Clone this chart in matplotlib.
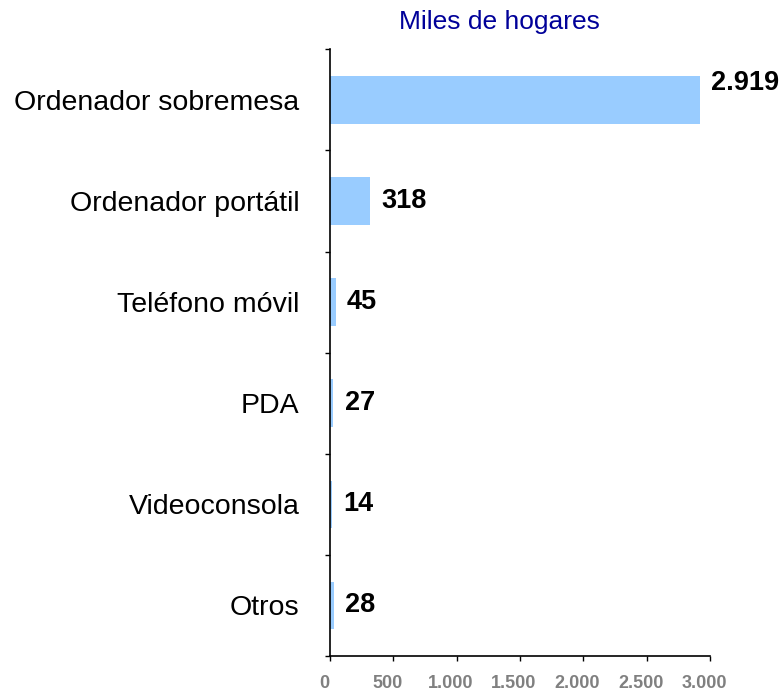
import matplotlib.pyplot as plt
import numpy as np
from matplotlib.ticker import FuncFormatter, FixedLocator
from matplotlib.transforms import ScaledTranslation

plt.rcParams['font.family'] = ['Liberation Sans', 'DejaVu Sans']

# Datos
categories = ['Ordenador sobremesa', 'Ordenador portátil', 'Teléfono móvil',
              'PDA', 'Videoconsola', 'Otros']
values = [2919, 318, 45, 27, 14, 28]
labels = ['2.919', '318', '45', '27', '14', '28']

fig = plt.figure(figsize=(7.82, 6.91), dpi=100)
ax = fig.add_axes([0.422, 0.0507, 0.486, 0.878])

y = np.arange(len(categories))
ax.barh(y, values, height=0.47, color='#99CCFF')
ax.set_ylim(len(categories) - 0.5, -0.5)
ax.set_xlim(0, 3000)

# Etiquetas de valor
for i, (v, lab) in enumerate(zip(values, labels)):
    dy = 12 if i == 0 else 0
    ax.annotate(lab, xy=(v, i), xytext=(8, dy), textcoords='offset points',
                ha='left', va='center', fontsize=19.5, fontweight='bold')

ax.set_yticks(y)
ax.set_yticklabels(categories, fontsize=20.5)
ax.tick_params(axis='y', length=0, pad=22)
ax.yaxis.set_minor_locator(FixedLocator(np.arange(-0.5, len(categories), 1.0)))
ax.tick_params(axis='y', which='minor', length=3.5, direction='out', width=1)

ax.set_xticks(np.arange(0, 3001, 500))
ax.xaxis.set_major_formatter(FuncFormatter(lambda x, p: f'{int(x):,}'.replace(',', '.')))
ax.tick_params(axis='x', length=3.5, width=1, direction='out', pad=10,
               labelsize=13, labelcolor='#808080')
shift = ScaledTranslation(-0.06, 0, fig.dpi_scale_trans)
for t in ax.get_xticklabels():
    t.set_fontweight('bold')
    t.set_transform(t.get_transform() + shift)

ax.spines['top'].set_visible(False)
ax.spines['right'].set_visible(False)
ax.spines['left'].set_linewidth(1.2)
ax.spines['bottom'].set_linewidth(1.2)

fig.text(0.639, 0.968, 'Miles de hogares', color='#000099', fontsize=19,
         ha='center', va='center')

plt.savefig('out.png', dpi=100)
